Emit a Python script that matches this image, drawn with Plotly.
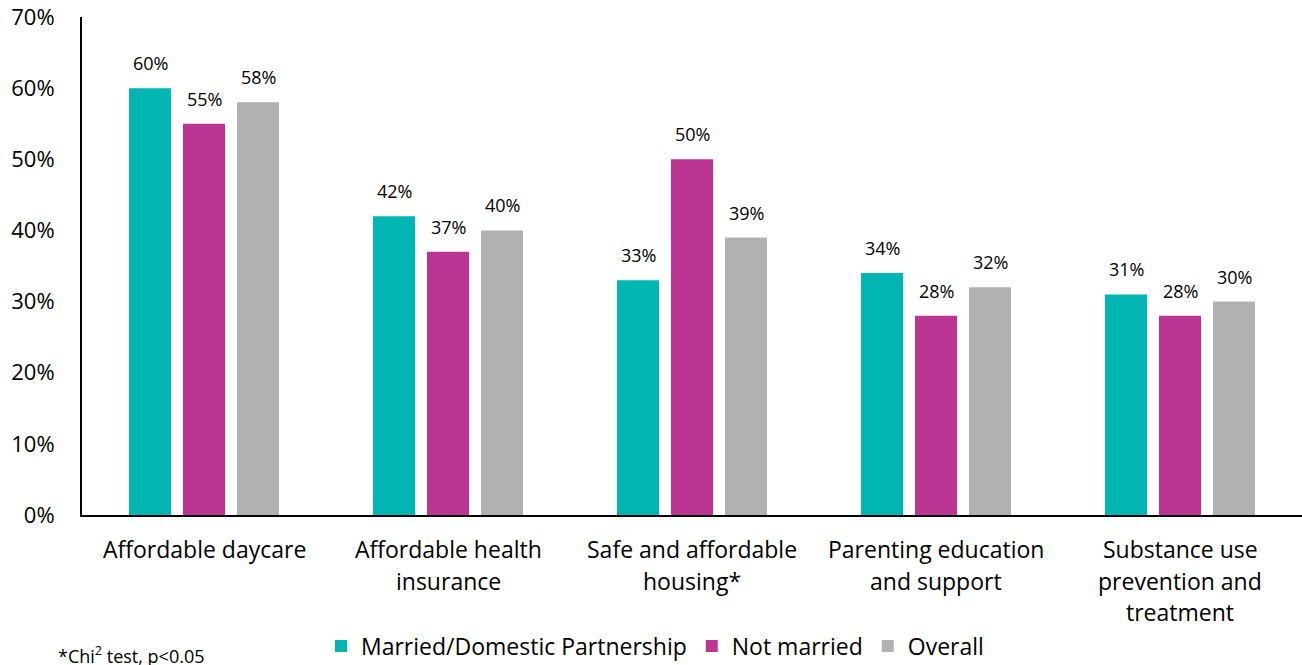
import plotly.graph_objects as go

categories = [
    "Affordable daycare",
    "Affordable health<br>insurance",
    "Safe and affordable<br>housing*",
    "Parenting education<br>and support",
    "Substance use<br>prevention and<br>treatment",
]
married = [60, 42, 33, 34, 31]
not_married = [55, 37, 50, 28, 28]
overall = [58, 40, 39, 32, 30]

series = [
    ("Married/Domestic Partnership", married, "#00B5B2"),
    ("Not married", not_married, "#BB3592"),
    ("Overall", overall, "#B0B1B3"),
]

FONT = "Open Sans"
PLOT_TOP, PLOT_BOTTOM, PLOT_LEFT, WIDTH, HEIGHT = 17, 515, 82, 1302, 665
plot_h = PLOT_BOTTOM - PLOT_TOP
plot_w = WIDTH - PLOT_LEFT


def py(pixel_y):
    """Pixel row -> paper y coordinate."""
    return (PLOT_BOTTOM - pixel_y) / plot_h


def px(pixel_x):
    """Pixel column -> paper x coordinate."""
    return (pixel_x - PLOT_LEFT) / plot_w


fig = go.Figure()
for name, vals, color in series:
    fig.add_trace(go.Bar(
        x=categories, y=vals, name=name,
        marker=dict(color=color, line=dict(width=0)),
    ))

# value labels above each bar
offsets = [-54, 0, 54]
for (name, vals, color), dx in zip(series, offsets):
    for cat, v in zip(categories, vals):
        fig.add_annotation(
            x=cat, y=v, text=f"{v}%", showarrow=False,
            xref="x", yref="y", xanchor="center", yanchor="bottom",
            xshift=dx, yshift=11,
            font=dict(family=FONT, size=18, color="#000000"),
        )

# category labels, one line at a time for wider line spacing
for cat in categories:
    for i, line in enumerate(cat.split("<br>")):
        fig.add_annotation(
            x=cat, y=py(549 + 31.5 * i), xref="x", yref="paper",
            text=line, showarrow=False, xanchor="center", yanchor="middle",
            font=dict(family=FONT, size=23, color="#000000"),
        )

fig.add_annotation(
    x=px(56), y=py(655), xref="paper", yref="paper",
    xanchor="left", yanchor="middle",
    text="*Chi<sup>2</sup> test, p<0.05", showarrow=False,
    font=dict(family=FONT, size=18, color="#000000"),
)

fig.update_layout(
    width=WIDTH, height=HEIGHT,
    margin=dict(l=PLOT_LEFT, r=0, t=PLOT_TOP, b=HEIGHT - PLOT_BOTTOM,
                autoexpand=False),
    paper_bgcolor="white", plot_bgcolor="white",
    barmode="group", bargap=0.336, bargroupgap=0.222,
    font=dict(family=FONT, size=20, color="#000000"),
    showlegend=True,
    legend=dict(
        orientation="h", x=px(655), xanchor="center",
        y=py(646), yanchor="middle",
        font=dict(family=FONT, size=23), traceorder="normal",
    ),
    xaxis=dict(
        showline=True, linecolor="#000000", linewidth=2,
        ticks="", showticklabels=False, showgrid=False,
    ),
    yaxis=dict(
        range=[0, 70], dtick=10, ticksuffix="%",
        showline=True, linecolor="#000000", linewidth=2,
        showgrid=False, zeroline=False, ticks="",
        tickfont=dict(family=FONT, size=22), ticklabelstandoff=21,
    ),
)

fig.write_html("out.html")
